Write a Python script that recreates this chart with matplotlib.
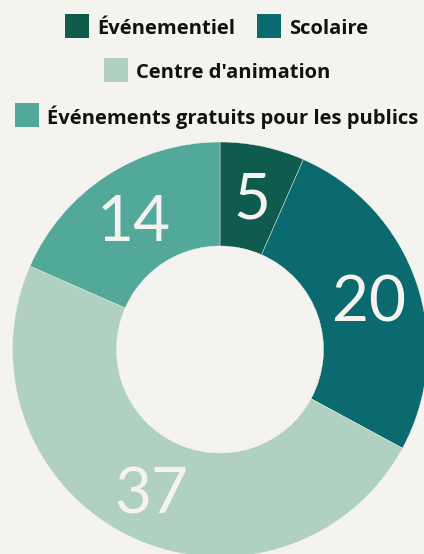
import matplotlib
matplotlib.use("Agg")
import matplotlib.pyplot as plt
from matplotlib.patches import Rectangle
import numpy as np

categories = ["Événementiel", "Scolaire", "Centre d'animation", "Événements gratuits pour les publics"]
values = [5, 20, 37, 14]
colors = ["#0f5c4f", "#0b6a70", "#b0d1c1", "#52a899"]
bg = "#f4f3ef"

W, H = 424, 554
fig = plt.figure(figsize=(W / 100, H / 100), dpi=100, facecolor=bg)
ax = fig.add_axes([0, 0, 1, 1])
ax.set_facecolor(bg)
ax.set_xlim(0, W)
ax.set_ylim(0, H)
ax.set_aspect("equal")
ax.axis("off")

cx, cy = 220, H - 349.5
R, w = 207.5, 104
wedges, _ = ax.pie(values, colors=colors, startangle=90, counterclock=False,
                   radius=R, center=(cx, cy),
                   wedgeprops=dict(width=w, edgecolor=bg, linewidth=0.3))
ax.set_xlim(0, W)
ax.set_ylim(0, H)

for wdg, v in zip(wedges, values):
    ang = np.deg2rad((wdg.theta1 + wdg.theta2) / 2)
    r = R - w / 2 + 2
    ax.text(cx + r * np.cos(ang), cy + r * np.sin(ang) - 5, str(v),
            ha="center", va="center", color=bg, fontsize=46,
            fontfamily="Lato", fontweight="normal")

# Legend (manual)
rows = [[0, 1], [2], [3]]
row_y = [26, 70, 115]
sq = 24
gap_sq_text = 8
gap_items = 22
fs = 14.5
renderer = fig.canvas.get_renderer()
for row, yc in zip(rows, row_y):
    items = []
    for i in row:
        t = fig.text(0, 0, categories[i], fontsize=fs, fontweight="bold",
                     fontfamily="Open Sans", color="#111111")
        bb = t.get_window_extent(renderer=renderer)
        items.append((i, t, bb.width))
    total = sum(sq + gap_sq_text + tw for _, _, tw in items) + gap_items * (len(items) - 1)
    x = (W - total) / 2 + 5
    for i, t, tw in items:
        fig.patches.append(Rectangle(((x) / W, (H - yc - sq / 2) / H), sq / W, sq / H,
                                     transform=fig.transFigure, facecolor=colors[i],
                                     edgecolor="none"))
        t.set_position(((x + sq + gap_sq_text) / W, (H - yc) / H))
        t.set_va("center_baseline")
        x += sq + gap_sq_text + tw + gap_items

fig.savefig("out.png", dpi=100, facecolor=bg)
